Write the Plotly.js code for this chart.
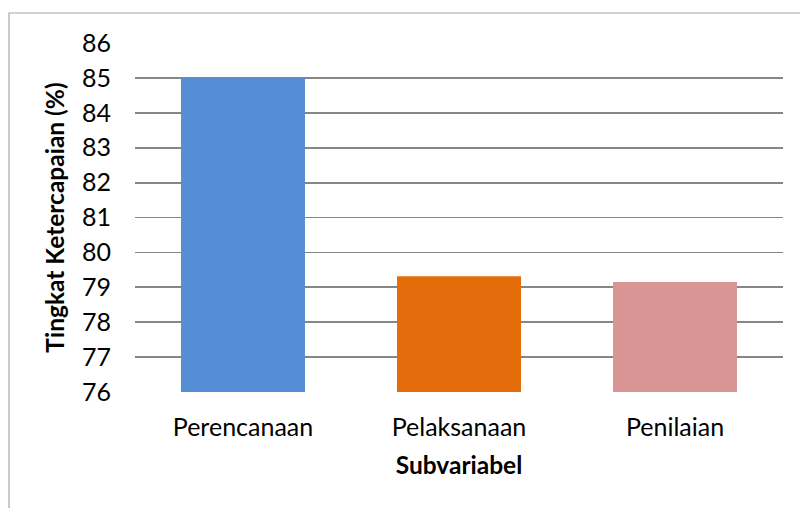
<!DOCTYPE html>
<html>
<head>
<meta charset="utf-8">
<script src="https://cdn.plot.ly/plotly-3.0.1.min.js"></script>
<style>
html,body{margin:0;padding:0;background:#fff;}
#chart{width:800px;height:508px;}
</style>
</head>
<body>
<div id="chart"></div>
<script>
const categories = ["Perencanaan", "Pelaksanaan", "Penilaian"];
const values = [85.0, 79.32, 79.15];
const barColors = ["#558ED5", "#E46C0A", "#D99594"];
const yTicks = [76, 77, 78, 79, 80, 81, 82, 83, 84, 85, 86];

const FONT = "Lato, 'Open Sans', sans-serif";

Plotly.newPlot("chart", [{
  type: "bar",
  x: categories,
  y: values,
  marker: {color: barColors, line: {width: 0}},
  hoverinfo: "none"
}], {
  width: 800,
  height: 508,
  margin: {l: 135, r: 17, t: 43, b: 116},
  paper_bgcolor: "#ffffff",
  plot_bgcolor: "#ffffff",
  bargap: 0.426,
  showlegend: false,
  font: {family: FONT, size: 25, color: "#000000"},
  xaxis: {
    showgrid: false,
    zeroline: false,
    showline: false,
    ticks: "",
    ticklabelstandoff: 18,
    tickfont: {family: FONT, size: 25, color: "#000"},
    title: {text: "<b>Subvariabel</b>", font: {family: FONT, size: 24.5, color: "#000"}, standoff: 16}
  },
  yaxis: {
    range: [76, 86],
    tickvals: yTicks,
    showgrid: true,
    gridcolor: "#868686",
    gridwidth: 1.8,
    zeroline: false,
    showline: false,
    ticks: "",
    ticklabelstandoff: 23,
    tickfont: {family: FONT, size: 25, color: "#000"},
    title: {text: "<b>Tingkat Ketercapaian (%)</b>", font: {family: FONT, size: 24.5, color: "#000"}, standoff: 10}
  },
  shapes: [{
    type: "rect", xref: "paper", yref: "paper",
    x0: -0.1944, x1: 1.2, y0: -0.6, y1: 1.086,
    line: {color: "#a6a6a6", width: 1.2},
    fillcolor: "rgba(0,0,0,0)",
    layer: "below"
  }]
}, {staticPlot: true, displayModeBar: false});
</script>
</body>
</html>
